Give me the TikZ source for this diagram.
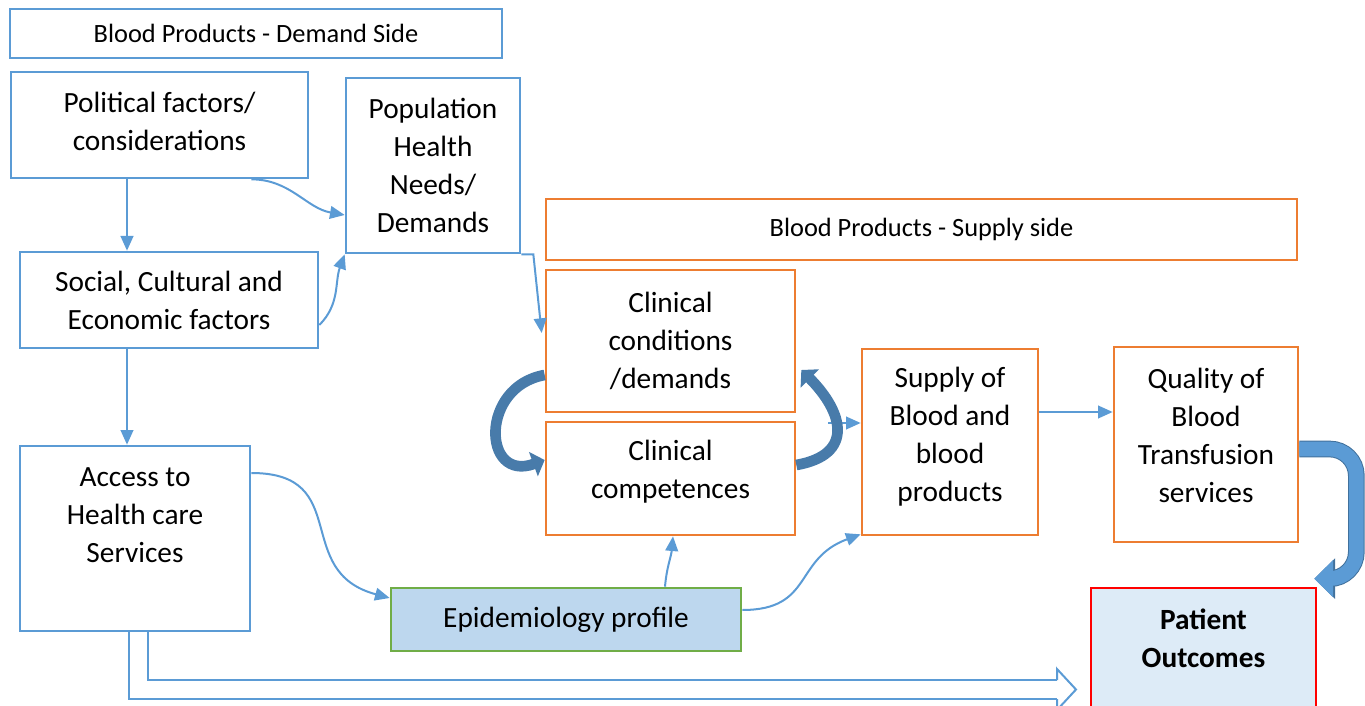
\documentclass[tikz,border=0pt]{standalone}
\usepackage{fontspec}
\setmainfont{Carlito}
\usetikzlibrary{positioning, arrows.meta, calc}
\definecolor{lineblue}{HTML}{5B9BD5}
\definecolor{darkblue}{HTML}{41719C}
\definecolor{boxorange}{HTML}{ED7D31}
\definecolor{epigreen}{HTML}{70AD47}
\definecolor{epifill}{HTML}{BDD7EE}
\definecolor{outfill}{HTML}{DDEBF7}
\definecolor{outred}{HTML}{FF0000}
\newcommand{\boxfont}{\fontsize{22}{28.5}\selectfont}
\newcommand{\sidefont}{\fontsize{19.8}{24}\selectfont}
\tikzset{
	sidebox/.style={
		rectangle,
		draw=lineblue,
		line width=0.9pt,
		font=\sidefont,
		inner sep=0pt,
	},
	block/.style={
		rectangle,
		draw=lineblue,
		line width=2pt,
		align=center,
		font=\boxfont,
		inner sep=0pt,
	},
	clinic/.style={
		block,
		draw=boxorange,
	},
	lift/.style={
		text depth=#1,
	},
	link/.style={
		->,
		draw=lineblue,
		line width=1.5pt,
	},
	swirl/.style={
		-{Triangle[length=9pt,width=19pt]},
		draw=darkblue!75!lineblue,
		line width=8pt,
	},
	bigarrow/.style={
		-{Triangle[length=14pt,width=27pt]},
		draw=lineblue,
		line width=11pt,
		rounded corners=20pt,
		preaction={draw=darkblue, line width=12.5pt, -{Triangle[length=15.5pt,width=29.5pt]}},
	},
	hollow/.style={
		draw=lineblue,
		line width=1.5pt,
		double=white,
		double distance=12.75pt,
	},
	hollowtip/.style={
		draw=lineblue,
		line width=1.5pt,
		line join=miter,
	},
}

\begin{document}
\begin{tikzpicture}[x=0.75pt, y=-0.75pt, >={Triangle[length=11pt,width=9.5pt]}]
		\useasboundingbox (0,0) rectangle (1365,706);
		% demand side
		\node [sidebox, minimum width=369pt, minimum height=36.75pt] (demand) at (256,33.5) {Blood Products - Demand Side};
		\node [block, lift=6pt, minimum width=222.75pt, minimum height=79.5pt] (political) at (159.5,125) {Political factors/\\considerations};
		\node [block, minimum width=130.5pt, minimum height=131.25pt] (population) at (433,165.5) {Population\\Health\\Needs/\\Demands};
		\node [block, minimum width=223.5pt, minimum height=72pt] (social) at (169,300) {Social, Cultural and\\Economic factors};
		\node [block, lift=34.5pt, minimum width=172.5pt, minimum height=138.75pt] (access) at (135,538.5) {Access to\\Health care\\Services};
		% supply side
		\node [sidebox, draw=boxorange, minimum width=563.25pt, minimum height=45.75pt] (supplyside) at (921.5,229.5) {Blood Products - Supply side};
		\node [clinic, minimum width=186.75pt, minimum height=106.5pt] (conditions) at (670.5,341) {Clinical\\conditions\\/demands};
		\node [clinic, lift=14pt, minimum width=186.75pt, minimum height=84.75pt] (competences) at (670.5,478.5) {Clinical\\competences};
		\node [clinic, lift=12pt, minimum width=132pt, minimum height=139.5pt] (supply) at (950,442) {Supply of\\Blood and\\blood\\products};
		\node [clinic, lift=14pt, minimum width=138pt, minimum height=146.25pt] (quality) at (1206,444.5) {Quality of\\Blood\\Transfusion\\services};
		\node [block, draw=epigreen, fill=epifill, minimum width=262.5pt, minimum height=47.25pt] (epi) at (566,619.5) {Epidemiology profile};
		\node [block, draw=outred, fill=outfill, lift=31.5pt, font=\boxfont\bfseries, minimum width=168.75pt, minimum height=106.5pt] (patient) at (1203.5,659) {Patient\\Outcomes};
		\coordinate (gap) at (828,423);
		\coordinate (hollowend) at (1057,689.5);

		\draw [link] ($(political.south)+(-32.5,0)$) -- ($(social.north)+(-42,0)$);
		\draw [link] ($(political.south east)+(-58,0)$) to[out=0, in=170] ($(population.west)+(0,49.5)$);
		\draw [link] ($(social.east)+(0,25)$) to[out=45, in=250] (population.south west);
		\draw [link] (population.south east) -- ++(12,0) -- ($(conditions.west)+(-3,-8)$);
		\draw [link] ($(social.south)+(-42,0)$) -- ($(access.north)+(-8,0)$);
		\draw [link] ($(access.east)+(0,-65.5)$) to[out=0, in=165, looseness=1.4] ($(epi.west)+(0,-21.5)$);
		\draw [link] ($(epi.north)+(99,0)$) to[out=85, in=265] ($(competences.south)+(2.5,0)$);
		\draw [link] ($(epi.east)+(0,-9.5)$) to[out=0, in=200, looseness=1.3] ($(supply.south west)+(0,-2)$);
		\draw [link] (gap) -- (supply.west |- gap);
		\draw [link] ($(supply.east)+(0,-30)$) -- ($(quality.west)+(0,-32.5)$);
		% loop between the clinical boxes
		\draw [swirl] ($(conditions.west)+(0,34)$) to[out=190, in=200, looseness=2] ($(competences.west)+(0,-18.5)$);
		\draw [swirl] ($(competences.east)+(0,-13.5)$) to[out=10, in=-45, looseness=1.6] ($(conditions.east)+(5,29)$);
		% to the outcomes
		\draw [bigarrow] ($(quality.east)+(0,4.5)$) -| ($(patient.north east)+(39,-8)$) -- ($(patient.north east)+(-3,-8)$);
		\draw [hollow] ($(access.south)+(3.5,0)$) |- (hollowend);
		\draw [hollowtip] ($(hollowend)+(0,-9.5)$) -- ++(0,-11) -- ++(19,20.5) -- ++(-19,20.5) -- ++(0,-11);
	\end{tikzpicture}
\end{document}
